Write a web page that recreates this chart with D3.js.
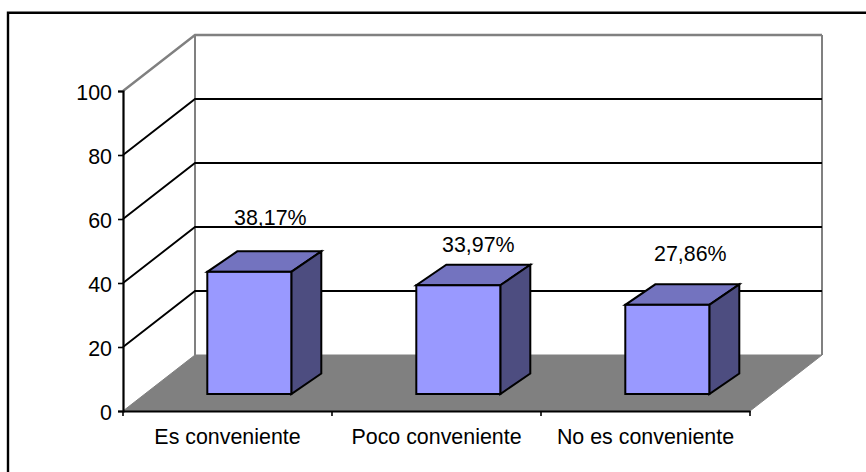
<!DOCTYPE html>
<html><head><meta charset="utf-8">
<script src="https://cdn.jsdelivr.net/npm/d3@7"></script>
<style>html,body{margin:0;padding:0;background:#fff}svg{display:block}text{font-family:"Liberation Sans",Arial,sans-serif;font-size:21.4px;fill:#000}</style>
</head><body><svg id="c" width="866" height="472"></svg>
<script>
const categories = ["Es conveniente","Poco conveniente","No es conveniente"];
const values = [38.17,33.97,27.86];
const valueLabels = ["38,17%","33,97%","27,86%"];
const yTicks = [0,20,40,60,80,100];

const svg = d3.select("#c");
const x = d3.scaleBand().domain(categories).range([123,750]);
const y = d3.scaleLinear().domain([0,100]).range([411,91]);
const depthX = 72, depthY = -56;
const bd = {x0:21.8, y0:-17, x:30, y:-20.5};
const barW = 84;
// hand placement of the value labels relative to each bar's front top edge
const labelDx = [21,20,23], labelDy = [-46.5,-33.5,-44];
const line = d3.line();
const [xL,xR] = x.range();
const y0 = y(0);

// frame: only the top and left edges fall inside the picture
svg.append("path").attr("fill","none").attr("stroke","#000").attr("stroke-width",2.4)
  .attr("d",line([[8,472],[8,12.7],[866,12.7]]));

// floor
svg.append("path").attr("d",line([[xL,y0],[xR,y0],[xR+depthX,y0+depthY],[xL+depthX,y0+depthY]])+"Z").attr("fill","#808080").attr("stroke","#808080");

// back wall edges
svg.append("path").attr("fill","none").attr("stroke","#808080").attr("stroke-width",2)
  .attr("d",line([[xL+depthX,y(100)+depthY],[xL+depthX,y0+depthY]]));
svg.append("path").attr("fill","none").attr("stroke","#808080").attr("stroke-width",2)
  .attr("d",line([[xR+depthX,y(100)+depthY],[xR+depthX,y0+depthY]]));
// gridlines
yTicks.slice(1).forEach(t=>{
  const c = t===100?"#808080":"#000";
  const w = t===100?2.4:1.9;
  svg.append("path").attr("fill","none").attr("stroke",c).attr("stroke-width",w)
    .attr("d",line([[xL,y(t)],[xL+depthX,y(t)+depthY],[xR+depthX,y(t)+depthY]]));
});

// axes
const yAxis = d3.axisLeft(y).tickValues(yTicks).tickSize(5).tickPadding(6);
const yG = svg.append("g").attr("transform",`translate(${xL},0)`).call(yAxis);
const xAxis = d3.axisBottom(x).tickValues([]).tickSize(0);
const xG = svg.append("g").attr("transform",`translate(0,${y0})`).call(xAxis);
[yG,xG].forEach(g=>g.select(".domain").attr("stroke","#000").attr("stroke-width",2.2));
yG.selectAll("line").attr("stroke","#000").attr("stroke-width",1.6);
yG.selectAll("text").attr("dy","0.4em").style("font-size","21.4px").style("font-family",'"Liberation Sans",Arial,sans-serif');
// category ticks and labels
const edges = [...categories.map(c=>x(c)), xR];
svg.append("g").selectAll("line").data(edges).join("line")
  .attr("x1",d=>d).attr("x2",d=>d).attr("y1",y0).attr("y2",y0+5).attr("stroke","#000").attr("stroke-width",1.6);
svg.append("g").selectAll("text").data(categories).join("text")
  .attr("x",d=>x(d)+x.bandwidth()/2).attr("y",y0+33).attr("text-anchor","middle").text(d=>d);

// bars
const g = svg.append("g").attr("stroke","#000").attr("stroke-width",2).attr("stroke-linejoin","miter");
values.forEach((v,i)=>{
  const cx = x(categories[i])+x.bandwidth()/2 + bd.x0;
  const l = cx-barW/2, r = cx+barW/2, b = y(0)+bd.y0, t = y(v)+bd.y0;
  g.append("path").attr("fill","#7373BF").attr("d",line([[l,t],[r,t],[r+bd.x,t+bd.y],[l+bd.x,t+bd.y]])+"Z");
  g.append("path").attr("fill","#4D4D80").attr("d",line([[r,t],[r+bd.x,t+bd.y],[r+bd.x,b+bd.y],[r,b]])+"Z");
  g.append("rect").attr("fill","#9999FF").attr("x",l).attr("y",t).attr("width",barW).attr("height",b-t);
  svg.append("text").attr("x",cx+labelDx[i]).attr("y",t+labelDy[i]).attr("text-anchor","middle").text(valueLabels[i]);
});
</script></body></html>
